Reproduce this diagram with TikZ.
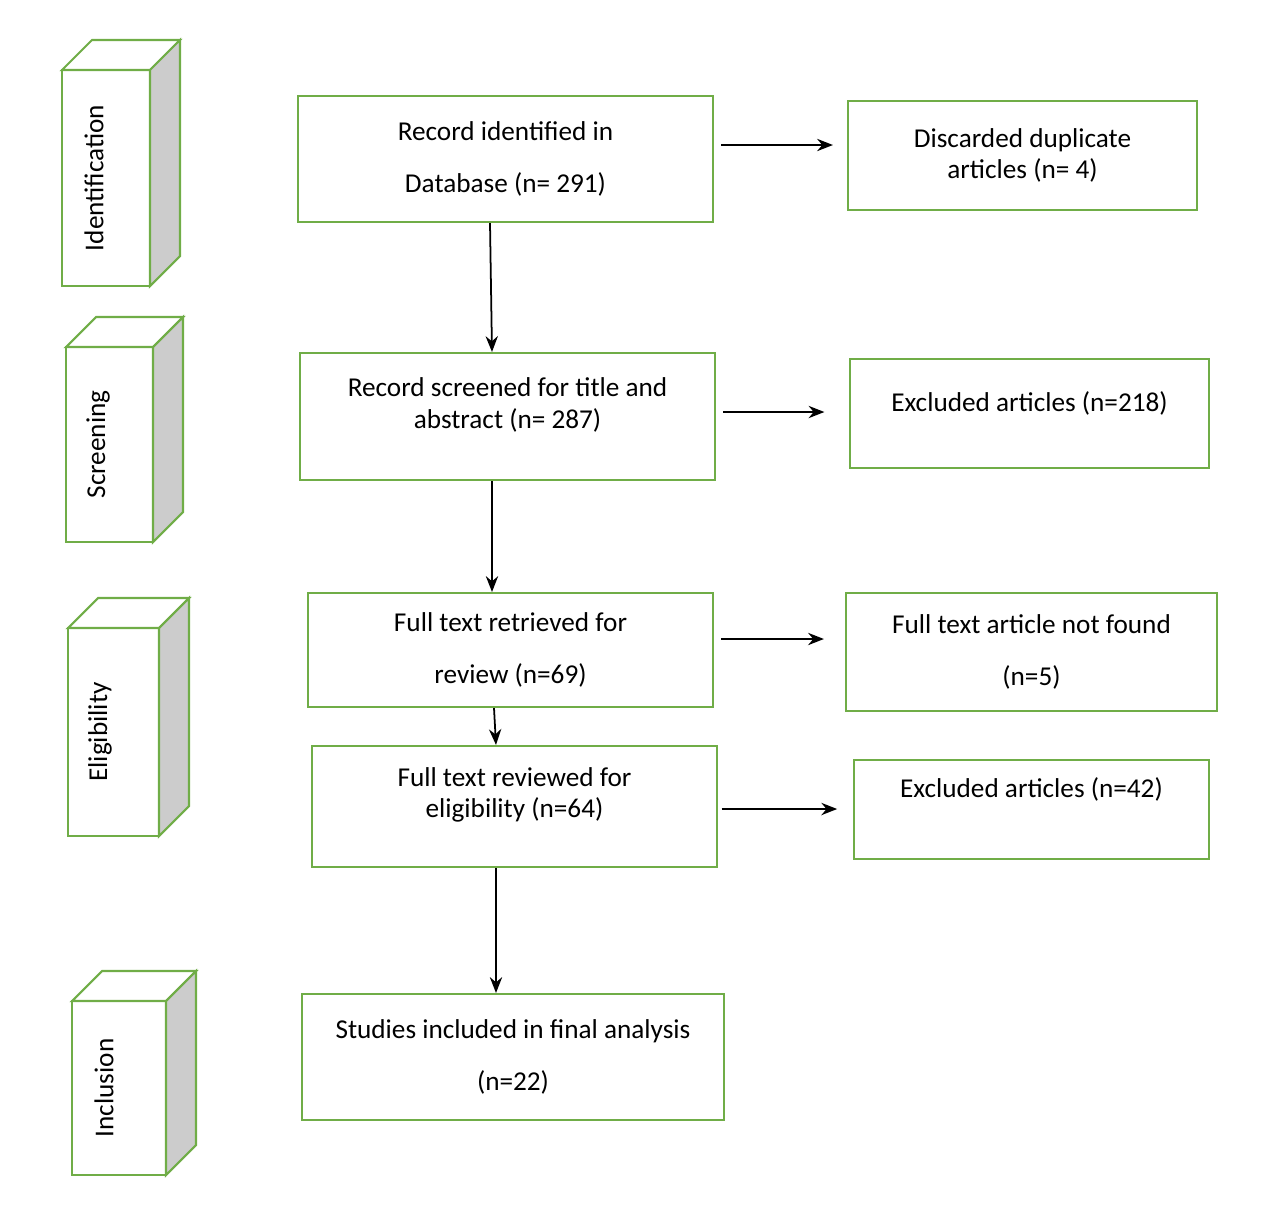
\documentclass[tikz,border=0pt]{standalone}
\usepackage{fontspec}
\setmainfont{Carlito}
\usetikzlibrary{
		calc,
		arrows.meta,
		positioning
	}
\definecolor{boxgreen}{RGB}{112,173,71}
\tikzset{
		>=stealth,
		box/.style={draw=boxgreen, line width=1.2pt, align=center, inner sep=0pt,
			font=\fontsize{15.5}{18}\selectfont},
		txt/.style={align=center, inner sep=0pt, font=\fontsize{15.5}{18}\selectfont},
		flow/.style={->, line width=1pt, >={Stealth[length=9pt,width=7pt]}}
	}
\begin{document}
\begin{tikzpicture}[x=0.02cm, y=-0.02cm]
    \useasboundingbox (0,0) rectangle (1280,1218);

    % the stage blocks on the left
    \foreach \xa/\ya/\xb/\yb/\stage in {62/70/150/286/Identification,
        66/347/153/542/Screening, 68/628/159/836/Eligibility,
        72/1001/166/1175/Inclusion}{
        \filldraw[fill=white, draw=boxgreen, line width=1.2pt]
            (\xa,\ya) -- (\xa+30,\ya-30) -- (\xb+30,\ya-30) -- (\xb,\ya) -- cycle;
        \filldraw[fill=gray!40, draw=boxgreen, line width=1.2pt]
            (\xb,\ya) -- (\xb+30,\ya-30) -- (\xb+30,\yb-30) -- (\xb,\yb) -- cycle;
        \draw[boxgreen, line width=1.2pt] (\xa,\ya) rectangle (\xb,\yb);
        \node[txt, rotate=90] at (\xa+32,{(\ya+\yb)/2}) {\stage};
    }

    % the boxes of the flow
    \node[box, minimum width=8.3cm, minimum height=2.52cm,
        font=\fontsize{15.5}{30}\selectfont] (rec) at (505.5,159)
        {Record identified in\\Database (n= 291)};
    \node[box, minimum width=6.98cm, minimum height=2.18cm] (dup) at (1022.5,155.5)
        {Discarded duplicate\\articles (n= 4)};
    \node[box, minimum width=8.3cm, minimum height=2.54cm] (scr) at (507.5,416.5) {};
    \node[txt] (scrt) at (507.5,405) {Record screened for title and\\abstract (n= 287)};
    \node[box, minimum width=7.18cm, minimum height=2.18cm] (exa) at (1029.5,413.5) {};
    \node[txt] (exat) at (1029.5,403) {Excluded articles (n=218)};
    \node[box, minimum width=8.1cm, minimum height=2.28cm,
        font=\fontsize{15.5}{30}\selectfont] (ret) at (510.5,650)
        {Full text retrieved for\\review (n=69)};
    \node[box, minimum width=7.42cm, minimum height=2.36cm,
        font=\fontsize{15.5}{30}\selectfont] (nf) at (1031.5,652)
        {Full text article not found\\(n=5)};
    \node[box, minimum width=8.1cm, minimum height=2.42cm] (rev) at (514.5,806.5) {};
    \node[txt] (revt) at (514.5,795) {Full text reviewed for\\eligibility (n=64)};
    \node[box, minimum width=7.1cm, minimum height=1.98cm] (exb) at (1031.5,809.5) {};
    \node[txt] (exbt) at (1031.5,789) {Excluded articles (n=42)};
    \node[box, minimum width=8.44cm, minimum height=2.52cm,
        font=\fontsize{15.5}{30}\selectfont] (inc) at (513,1057)
        {Studies included in final analysis\\(n=22)};

    % helper heights for the arrows
    \coordinate (h1) at (0,145);
    \coordinate (h2) at (0,412);
    \coordinate (h3) at (0,639);
    \coordinate (h4) at (0,809);
    \coordinate (v1) at (490,0);
    \coordinate (v2) at (492,0);
    \coordinate (v3) at (494,0);
    \coordinate (v4) at (496,0);

    %draw the arrows
    \draw[flow, shorten <=4pt, shorten >=8pt] (rec.east |- h1) -- (dup.west |- h1);
    \draw[flow] (rec.south -| v1) -- (scr.north -| v2);
    \draw[flow, shorten <=4pt, shorten >=14pt] (scr.east |- h2) -- (exa.west |- h2);
    \draw[flow] (scr.south -| v2) -- (ret.north -| v2);
    \draw[flow, shorten <=4pt, shorten >=12pt] (ret.east |- h3) -- (nf.west |- h3);
    \draw[flow] (ret.south -| v3) -- (rev.north -| v4);
    \draw[flow, shorten <=2pt, shorten >=9pt] (rev.east |- h4) -- (exb.west |- h4);
    \draw[flow] (rev.south -| v4) -- (inc.north -| v4);

\end{tikzpicture}
\end{document}
